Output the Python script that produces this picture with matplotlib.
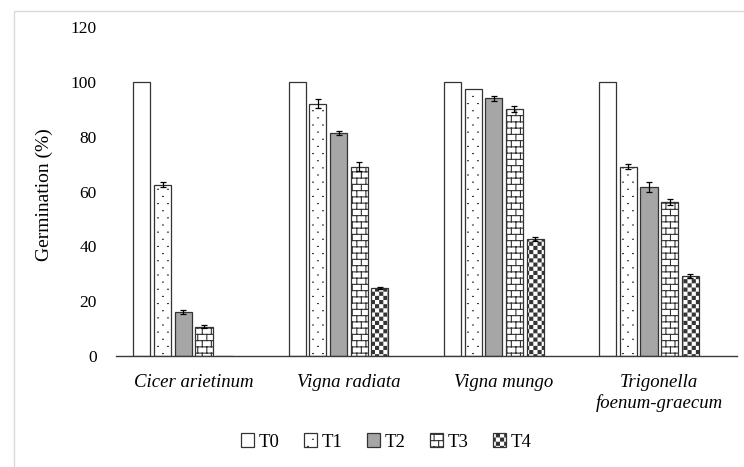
import warnings
import numpy as np
import matplotlib
matplotlib.use("Agg")
import matplotlib.pyplot as plt
from matplotlib import hatch as mhatch
from matplotlib.path import Path
from matplotlib.patches import Patch, Rectangle

warnings.filterwarnings("ignore", message="hatch must consist")

# ---- data -------------------------------------------------------------
species = ["Cicer arietinum", "Vigna radiata", "Vigna mungo",
           "Trigonella\nfoenum-graecum"]
treatments = ["T0", "T1", "T2", "T3", "T4"]

t0 = [100.0, 100.0, 100.0, 100.0]
t1 = [62.5, 92.0, 97.4, 69.1]
t2 = [16.0, 81.3, 94.0, 61.8]
t3 = [10.7, 69.1, 90.1, 56.2]
t4 = [0.0, 24.9, 42.6, 29.2]

t0_err = [0.0, 0.0, 0.0, 0.0]
t1_err = [0.8, 1.7, 0.0, 1.0]
t2_err = [0.8, 0.8, 1.0, 1.8]
t3_err = [0.5, 1.8, 1.0, 1.0]
t4_err = [0.0, 0.3, 0.8, 0.8]

yticks = [0, 20, 40, 60, 80, 100, 120]


# ---- custom fill patterns ------------------------------------------------
class _SegmentHatch(mhatch.HatchPatternBase):
    char = "?"

    def __init__(self, hatch, density):
        if self.char in hatch:
            self.segments = np.asarray(self.build(), float)
        else:
            self.segments = np.empty((0, 2, 2))
        self.num_vertices = len(self.segments) * 2

    def set_vertices_and_codes(self, vertices, codes):
        vertices[:] = self.segments.reshape(-1, 2)
        codes[0::2] = Path.MOVETO
        codes[1::2] = Path.LINETO


class BrickHatch(_SegmentHatch):
    char = "b"

    def build(self):
        rows, cols = 16, 11
        segs = []
        for k in range(rows):
            y0 = (k + 0.5) / rows
            y1 = (k + 1.5) / rows
            segs.append([[0, y0], [1, y0]])
            for c in range(cols):
                x = (c + 0.25 + 0.5 * (k % 2)) / cols
                segs.append([[x, y0], [x, y1]])
                if y1 > 1:
                    segs.append([[x, y0 - 1], [x, y1 - 1]])
        return segs


class DotHatch(_SegmentHatch):
    char = "d"

    def build(self):
        rows, cols = 14, 10
        segs = []
        for r in range(rows):
            y = (r + 0.5) / rows
            for c in range(cols):
                x = (c + 0.25 + 0.5 * (r % 2)) / cols
                segs.append([[x, y], [x + 0.009, y]])
        return segs


class CheckerHatch(mhatch.HatchPatternBase):
    """Dense dark checkerboard made of small filled squares."""
    char = "k"
    cells = 24
    side = 0.72

    def __init__(self, hatch, density):
        n = self.cells
        self.count = (n * n // 2) if self.char in hatch else 0
        self.num_vertices = self.count * 5

    def set_vertices_and_codes(self, vertices, codes):
        n = self.cells
        h = self.side / n / 2
        k = 0
        for i in range(n):
            for j in range(n):
                if (i + j) % 2:
                    continue
                cx, cy = (i + 0.5) / n, (j + 0.5) / n
                vertices[5 * k:5 * k + 5] = [[cx - h, cy - h], [cx + h, cy - h],
                                             [cx + h, cy + h], [cx - h, cy + h],
                                             [cx - h, cy - h]]
                codes[5 * k] = Path.MOVETO
                codes[5 * k + 1:5 * k + 4] = Path.LINETO
                codes[5 * k + 4] = Path.CLOSEPOLY
                k += 1


mhatch._hatch_types.extend([BrickHatch, DotHatch, CheckerHatch])

# ---- styling ------------------------------------------------------------
plt.rcParams["font.family"] = ["Liberation Serif", "DejaVu Serif"]
plt.rcParams["hatch.linewidth"] = 0.8

edge = "#333333"
styles = [
    dict(facecolor="white", hatch=None),
    dict(facecolor="white", hatch="d"),
    dict(facecolor="#a6a6a6", hatch=None),
    dict(facecolor="white", hatch="b"),
    dict(facecolor="white", hatch="k"),
]

series = [t0, t1, t2, t3, t4]
errors = [t0_err, t1_err, t2_err, t3_err, t4_err]

W, H = 744, 467
fig = plt.figure(figsize=(W / 100, H / 100), dpi=100)
ax = fig.add_axes([116 / W, 111 / H, 621 / W, 329 / H])

x = np.arange(len(species))
slot = 0.1333
width = 0.11

for i, (vals, errs, st) in enumerate(zip(series, errors, styles)):
    pos = x + (i - 2.5) * slot
    vals = np.asarray(vals)
    errs = np.asarray(errs)
    ax.bar(pos, vals, width, facecolor=st["facecolor"], hatch=st["hatch"],
           edgecolor=edge, linewidth=0.9, zorder=2)
    m = errs > 0
    ax.errorbar(pos[m], vals[m], yerr=errs[m], fmt="none", ecolor="black",
                elinewidth=0.9, capsize=2.5, capthick=0.9, zorder=3)

ax.set_xlim(-0.5, 3.5)
ax.set_ylim(0, 120)
ax.set_yticks(yticks)
ax.set_yticklabels([str(v) for v in yticks], fontsize=12.5)
ax.set_xticks(x)
ax.set_xticklabels(species, fontsize=13.5, fontstyle="italic")
ax.tick_params(axis="y", length=0, pad=14)
ax.tick_params(axis="x", length=0, pad=13)

for s in ("top", "right", "left"):
    ax.spines[s].set_visible(False)
ax.spines["bottom"].set_color("#3a3a3a")
ax.spines["bottom"].set_linewidth(1.0)

ax.set_ylabel("Germination (%)", fontsize=14)
ax.yaxis.set_label_coords((53 - 116) / 621, 0.49)

handles = [Patch(facecolor=st["facecolor"], hatch=st["hatch"],
                 edgecolor=edge, linewidth=0.9) for st in styles]
fig.legend(handles, treatments, loc="center",
           bbox_to_anchor=(386 / W, 1 - 442 / H), ncol=5, frameon=False,
           fontsize=13.5, handlelength=0.7, handleheight=0.7,
           handletextpad=0.25, columnspacing=1.3)

# light frame around the chart area
fig.add_artist(Rectangle((14 / W, -0.1), 1.0, 1.1 - 11 / H,
                         transform=fig.transFigure, fill=False,
                         edgecolor="#d9d9d9", linewidth=1.0))

fig.savefig("out.png", dpi=100)
